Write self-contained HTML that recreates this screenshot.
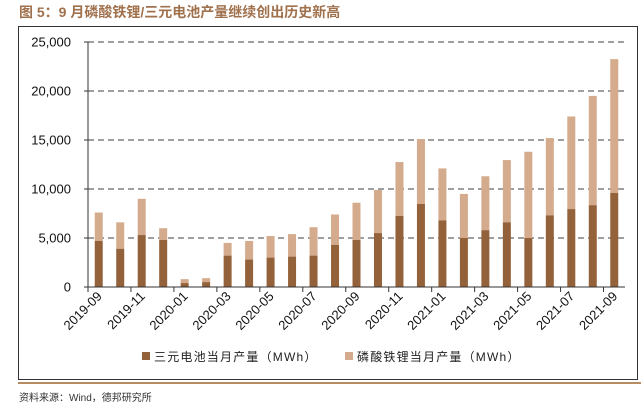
<!DOCTYPE html>
<html><head><meta charset="utf-8"><style>
body{margin:0;width:641px;height:414px;background:#fff;overflow:hidden;font-family:"Liberation Sans","Noto Sans CJK SC",sans-serif}
</style></head><body>
<svg width="641" height="414" style="position:absolute;left:0;top:0">
<text x="19" y="17" font-size="14" font-weight="bold" fill="#a0714d" font-family="Liberation Sans,Noto Sans CJK SC,sans-serif">图 5：9 月磷酸铁锂/三元电池产量继续创出历史新高</text>
<rect x="18.5" y="26.5" width="619" height="353" fill="none" stroke="#333" stroke-width="1"/>
<line x1="18" y1="383" x2="641" y2="383" stroke="#b88c62" stroke-width="2"/>
<g id="grid"></g>
<g id="bars"></g>
<g id="axes"></g>
<g>
<rect x="142" y="352" width="8" height="8" fill="#94623a"/>
<text x="154" y="361" font-size="12" letter-spacing="1.2" fill="#222">三元电池当月产量（MWh）</text>
<rect x="345" y="352" width="8" height="8" fill="#d4ab8c"/>
<text x="357" y="361" font-size="12" letter-spacing="1.2" fill="#222">磷酸铁锂当月产量（MWh）</text>
</g>
<text x="19" y="401" font-size="10" fill="#333">资料来源：Wind，德邦研究所</text>
</svg>
<script>
const categories=["2019-09","2019-10","2019-11","2019-12","2020-01","2020-02","2020-03","2020-04","2020-05","2020-06","2020-07","2020-08","2020-09","2020-10","2020-11","2020-12","2021-01","2021-02","2021-03","2021-04","2021-05","2021-06","2021-07","2021-08","2021-09"];
const ternary=[4700,3900,5300,4800,400,500,3200,2800,3000,3100,3200,4300,4800,5500,7250,8470,6800,5000,5800,6600,5000,7300,7950,8350,9600];
const lfpTotal=[7600,6600,9000,6000,800,900,4500,4700,5200,5400,6100,7400,8600,9900,12750,15100,12100,9500,11300,12950,13800,15200,17400,19500,23250];
const yTicks=[0,5000,10000,15000,20000,25000];
const yTickLabels=["0","5,000","10,000","15,000","20,000","25,000"];
const NS="http://www.w3.org/2000/svg";
const x0=88,x1=625,yB=287,yT=42,yMax=25000;
const band=(x1-x0)/categories.length;
const y=v=>yB-(v/yMax)*(yB-yT);
const xc=i=>x0+band*(i+0.5);
function mk(t,a,p){const e=document.createElementNS(NS,t);for(const k in a)e.setAttribute(k,a[k]);p.appendChild(e);return e;}
const grid=document.getElementById('grid'),bars=document.getElementById('bars'),axes=document.getElementById('axes');
yTicks.forEach((v,i)=>{
 if(v>0){const l=mk('line',{x1:x0,x2:x1,y1:y(v),y2:y(v),stroke:'#666','stroke-width':1.3,'stroke-dasharray':'6,4'},grid);
 
 }
 const tk=mk('line',{x1:x0-4,x2:x0,y1:y(v),y2:y(v),stroke:'#333'},axes);
 
 
 const t=mk('text',{x:x0-17,y:y(v)+4.5,'font-size':13,fill:'#111','text-anchor':'end'},axes);
 t.textContent=yTickLabels[i];
 
 
});
categories.forEach((c,i)=>{
 const w=8,bx=xc(i)-w/2;
 const top=mk('rect',{x:bx,y:y(lfpTotal[i]),width:w,height:y(ternary[i])-y(lfpTotal[i]),fill:'#d4ab8c'},bars);
 
 
 const b=mk('rect',{x:bx,y:y(ternary[i]),width:w,height:yB-y(ternary[i]),fill:'#94623a'},bars);
 
 
 if(i%2===0){
  const tx=x0+band*i;
  const tk=mk('line',{x1:tx,x2:tx,y1:yB,y2:yB+5,stroke:'#333'},axes);
  
  
  const px=xc(i)+4,py=yB+10;
  const t=mk('text',{x:px,y:py,'font-size':13,fill:'#111','text-anchor':'end',transform:`rotate(-45 ${px} ${py})`},axes);
  t.textContent=c;
  
  
 }
});
const ya=mk('line',{x1:x0,x2:x0,y1:yT,y2:yB,stroke:'#333'},axes);


const xa=mk('line',{x1:x0,x2:x1,y1:yB,y2:yB,stroke:'#333'},axes);


</script>
</body></html>
